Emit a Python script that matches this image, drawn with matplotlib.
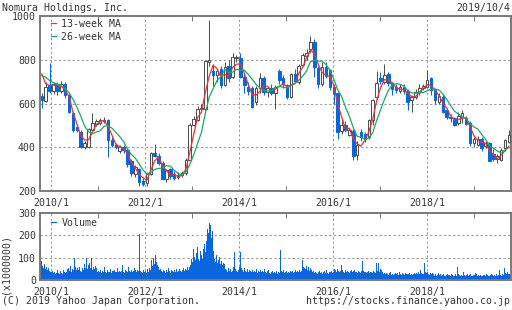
import matplotlib
matplotlib.use('Agg')
import matplotlib.pyplot as plt
import matplotlib.dates as mdates
from matplotlib.lines import Line2D
import numpy as np
import pandas as pd

plt.rcParams['font.family'] = 'DejaVu Sans Mono'

# monthly candles 2009/10 - 2019/10 (yen)
months = pd.period_range('2009-10', '2019-10', freq='M')
opens = [636, 613, 685, 655, 688, 655, 690, 639, 555, 494, 471, 403,
         400, 479, 505, 512, 520, 524, 433, 410, 385, 400, 387, 335,
         278, 300, 245, 235, 278, 375, 360, 330, 255, 299, 278, 266,
         272, 281, 342, 502, 524, 573, 573, 790, 750, 730, 756, 684,
         771, 722, 806, 806, 720, 677, 669, 608, 669, 715, 654, 669,
         650, 750, 715, 684, 628, 735, 700, 776, 817, 848, 883, 761,
         689, 765, 753, 677, 646, 474, 502, 456, 476, 365, 470, 460,
         445, 524, 631, 715, 700, 735, 692, 675, 659, 677, 659, 616,
         631, 654, 670, 677, 715, 662, 608, 631, 570, 537, 532, 509,
         540, 532, 512, 418, 410, 436, 405, 418, 370, 345, 342, 395, 425]
highs = [648, 700, 784, 700, 700, 705, 700, 645, 560, 505, 480, 430,
         490, 555, 530, 535, 540, 530, 445, 420, 410, 410, 395, 345,
         320, 305, 265, 285, 380, 415, 375, 335, 300, 305, 290, 285,
         290, 350, 510, 545, 590, 600, 800, 981, 780, 760, 770, 790,
         800, 830, 820, 830, 735, 700, 680, 680, 740, 725, 675, 690,
         685, 760, 730, 690, 740, 760, 780, 830, 850, 908, 895, 770,
         790, 790, 760, 690, 650, 530, 520, 490, 485, 430, 485, 470,
         530, 620, 750, 745, 780, 745, 700, 690, 690, 690, 665, 640,
         665, 690, 690, 754, 720, 670, 650, 640, 580, 550, 540, 560,
         570, 545, 520, 445, 450, 445, 430, 425, 390, 370, 395, 440, 480]
lows = [578, 605, 647, 645, 640, 650, 625, 555, 470, 470, 395, 390,
        395, 470, 495, 500, 510, 357, 400, 390, 375, 375, 310, 270,
        265, 225, 225, 225, 275, 355, 320, 250, 240, 255, 250, 255,
        265, 275, 340, 495, 520, 560, 570, 770, 680, 700, 670, 680,
        700, 715, 790, 715, 650, 640, 580, 595, 650, 640, 630, 640,
        573, 690, 670, 620, 625, 695, 690, 770, 800, 830, 720, 670,
        680, 715, 660, 600, 440, 460, 470, 450, 340, 340, 430, 425,
        440, 500, 620, 690, 690, 680, 640, 650, 650, 645, 570, 563,
        620, 640, 660, 670, 640, 600, 600, 555, 530, 515, 495, 500,
        510, 500, 405, 400, 405, 385, 395, 335, 335, 330, 335, 385, 420]
closes = [616, 677, 655, 688, 655, 690, 640, 563, 479, 479, 403, 418,
          482, 509, 520, 524, 525, 433, 410, 400, 400, 387, 325, 281,
          308, 240, 232, 278, 375, 360, 330, 255, 296, 268, 258, 272,
          282, 342, 502, 529, 573, 580, 796, 800, 730, 750, 684, 768,
          715, 811, 812, 722, 684, 658, 585, 669, 715, 654, 669, 650,
          677, 707, 689, 631, 735, 704, 771, 822, 832, 883, 768, 689,
          768, 726, 677, 646, 471, 502, 479, 479, 360, 410, 445, 440,
          524, 616, 692, 705, 730, 692, 665, 660, 674, 655, 608, 631,
          654, 670, 680, 707, 662, 616, 634, 563, 540, 532, 502, 543,
          555, 506, 418, 436, 440, 395, 418, 339, 345, 360, 387, 433, 456]

# moving averages, one reading per month
ma13 = [735, 690, 682, 684, 680, 678, 662, 631, 561, 507, 454, 433,
        434, 470, 504, 518, 523, 494, 456, 414, 403, 396, 371, 331,
        305, 276, 260, 250, 295, 338, 355, 315, 294, 273, 274, 266,
        271, 299, 375, 458, 535, 561, 650, 725, 775, 760, 721, 734,
        722, 765, 779, 782, 739, 688, 642, 637, 656, 679, 679, 658,
        665, 678, 691, 676, 685, 690, 737, 766, 808, 846, 828, 780,
        742, 728, 724, 683, 598, 540, 484, 487, 439, 416, 405, 432,
        470, 527, 611, 671, 709, 709, 696, 672, 666, 663, 646, 631,
        631, 652, 668, 686, 683, 662, 637, 604, 579, 545, 525, 526,
        533, 535, 493, 453, 431, 424, 418, 384, 367, 348, 364, 385, 405]
ma26 = [728, 720, 705, 695, 688, 680, 668, 649, 619, 584, 542, 497,
        471, 462, 469, 476, 496, 499, 487, 469, 449, 426, 393, 367,
        350, 324, 296, 277, 286, 299, 303, 305, 316, 314, 295, 280,
        272, 286, 321, 364, 417, 468, 554, 630, 668, 705, 723, 755,
        741, 743, 757, 752, 752, 734, 712, 688, 672, 661, 658, 657,
        672, 679, 674, 671, 682, 691, 706, 725, 749, 791, 797, 794,
        794, 778, 752, 712, 663, 632, 584, 542, 490, 450, 446, 436,
        443, 466, 521, 570, 618, 660, 683, 691, 688, 679, 659, 649,
        647, 649, 650, 658, 667, 665, 662, 644, 620, 591, 565, 552,
        539, 530, 509, 493, 483, 458, 436, 408, 396, 383, 374, 388, 398]

# weekly volume (x1,000,000 shares) from 2009/10/5
volume = [228, 105, 85, 62, 55, 70, 48, 58, 45, 52, 40, 47, 38,
          35, 42, 30, 38, 28, 33, 45, 30, 36, 27, 40, 32, 29, 44, 35, 31, 38,
          48, 40, 55, 42, 62, 38, 50, 45, 97, 58, 44, 52, 40, 47, 60, 42, 38, 55, 46,
          72, 55, 100, 60, 48, 65, 78, 52, 97, 45, 58, 50, 62, 44, 55,
          38, 42, 35, 45, 33, 40, 36, 60, 42, 38, 31, 44, 37, 35, 48, 33, 41, 39,
          30, 45, 36, 34, 52, 38, 42, 35, 40, 66, 44, 37, 33, 45, 40, 36, 58, 42,
          38, 47, 35, 41, 39, 55, 43, 37, 46, 40,
          205,
          42, 35, 38, 30, 44, 36, 40, 33, 48, 38, 52, 45,
          75, 88, 62, 97, 70, 110, 80, 65, 58,
          45, 38, 50, 42, 35, 47, 40, 33, 44, 38, 52, 36, 41, 30, 46, 39, 35, 43,
          37, 50, 34, 42, 38, 48, 40, 36, 45, 55, 42, 50, 47, 60, 52, 45, 58, 65,
          95, 80, 140, 105, 88, 120, 100, 150, 92, 85, 130, 110, 95, 140, 160, 125,
          200, 175, 230, 210, 255, 248, 190, 220,
          130, 95, 120, 80, 110, 75, 90, 105, 70, 85, 65, 78, 60, 72,
          50, 45, 38, 55, 42, 48, 35, 40, 58, 44, 127, 50, 42, 38, 46, 60, 127, 55,
          45, 40, 36, 52, 42, 38, 48, 34, 44, 40, 37, 100, 45, 38, 42, 35, 48, 30,
          40, 36, 44, 32, 38, 42, 34, 50, 36, 30, 40, 45, 33, 38, 28, 35, 42, 30,
          36, 32, 40, 29, 34,
          30, 38, 134,
          40, 35, 45, 30, 38, 42, 33, 36, 44, 31, 39, 35, 42, 30, 37, 45, 34, 40,
          32, 38, 43, 36, 41,
          88, 60, 55, 48, 62, 50, 45, 58, 42, 52, 46,
          35, 40, 30, 38, 45, 33, 28, 36, 42, 31, 38, 27, 34, 40, 30, 36, 44, 32,
          29, 38, 35, 41, 30, 37, 48, 42,
          45, 38, 50, 40, 35, 42, 67, 44, 36, 40, 33, 46, 38, 42, 35, 30, 39, 44,
          36, 32, 40, 47, 34, 38, 30, 42, 36, 33, 40, 35, 86, 42, 38, 34, 30, 36,
          40, 33, 38, 45, 35, 32, 40, 36, 30, 76, 42, 76, 38, 50, 89, 45,
          35, 28, 30, 25, 32, 27, 22, 30, 26, 34, 24, 29, 21, 28, 33, 25, 30, 23,
          27, 35, 26, 22, 30, 28, 24, 32, 25, 29, 20, 27, 31, 24, 28, 22, 26, 33,
          25, 30, 23, 28, 36, 27, 45, 32, 28, 25, 76, 38, 30, 26, 35, 29, 24, 32, 27, 30,
          25, 20, 28, 22, 18, 24, 30, 21, 26, 19, 23, 27, 20, 25, 18, 22, 28, 21,
          24, 19, 26, 22, 17, 23, 20, 25, 18, 60, 28, 22, 19, 24, 20, 26, 35, 23,
          18, 21, 25, 19, 22, 27, 20, 24, 18, 23, 21, 30, 25, 19, 22, 17, 24, 20,
          26, 18, 23, 21, 19, 25, 22, 18, 20, 24, 19, 26, 21, 17, 23, 20, 25, 19,
          22, 45, 28, 24, 20, 26, 22, 55, 30, 25, 38, 28, 32, 26, 24]

title = 'Nomura Holdings, Inc.'
date_label = '2019/10/4'

BLUE = '#0a66dc'
UPC = '#505050'
RED = '#e8323c'
GREEN = '#1fa862'
FRAME = '#7a7a7a'
TXT = '#333333'
FS = 7.15

x0 = mdates.date2num(pd.Timestamp('2009-10-04'))
x1 = mdates.date2num(pd.Timestamp('2019-10-08'))

fig = plt.figure(figsize=(5.12, 3.10), dpi=100)
ax = fig.add_axes([39.5 / 512, 1 - 191 / 310, 471 / 512, 175 / 310])
axv = fig.add_axes([39.5 / 512, 1 - 280 / 310, 471 / 512, 67 / 310])

# candles sit evenly across the width, one slot per month
step = (x1 - x0) / len(months)
xs = x0 + step * (np.arange(len(months)) + 0.6)
o = np.array(opens); c = np.array(closes)
up = c >= o
ax.vlines(xs[up], np.array(lows)[up], np.array(highs)[up], color=UPC, lw=0.75, zorder=2)
ax.vlines(xs[~up], np.array(lows)[~up], np.array(highs)[~up], color=BLUE, lw=0.75, zorder=2)
body = np.maximum(np.abs(c - o), 2)
ax.bar(xs[up], body[up], bottom=np.minimum(o, c)[up], width=step * 0.65,
       facecolor='white', edgecolor=UPC, lw=0.75, zorder=3)
ax.bar(xs[~up], body[~up], bottom=np.minimum(o, c)[~up], width=step * 0.65,
       facecolor=BLUE, edgecolor=BLUE, lw=0.75, zorder=3)
ax.plot(xs, ma13, color=RED, lw=0.9, zorder=4, label='13-week MA')
ax.plot(xs, ma26, color=GREEN, lw=0.9, zorder=4, label='26-week MA')

weeks = pd.date_range('2009-10-05', periods=len(volume), freq='7D')
axv.bar(weeks, volume, width=7, color=BLUE, lw=0, align='edge')

even_years = [pd.Timestamp(f'{y}-01-01') for y in range(2010, 2019, 2)]
odd_years = [pd.Timestamp(f'{y}-01-01') for y in range(2011, 2020, 2)]

for a, ylim, yt in [(ax, (200, 1000), [200, 400, 600, 800, 1000]),
                    (axv, (0, 300), [0, 100, 200, 300])]:
    a.set_xlim(x0, x1)
    a.set_ylim(*ylim)
    a.set_yticks(yt)
    a.xaxis_date()
    a.set_xticks(even_years)
    a.set_xticklabels([f'{d.year}/1' for d in even_years])
    a.set_xticks(odd_years, minor=True)
    a.tick_params(axis='both', which='major', length=0, labelsize=FS, colors=TXT, pad=2.5)
    a.tick_params(axis='x', which='major', pad=5)
    a.tick_params(axis='x', which='minor', direction='in', length=3.5, width=0.75,
                  color=FRAME, top=True, bottom=True)
    a.grid(True, which='major', ls=(0, (2.2, 2.2)), color='#9a9a9a', lw=0.75)
    for s in a.spines.values():
        s.set_color(FRAME)
        s.set_linewidth(1.4)
    a.set_axisbelow(True)

axv.set_ylabel('(x1000000)', fontsize=FS, color=TXT)
axv.yaxis.set_label_coords(-0.061, 0.24)

leg = ax.legend(loc='upper left', bbox_to_anchor=(0.0235, 0.985), frameon=False,
                fontsize=FS, handlelength=0.55, handletextpad=0.55, labelspacing=0.3,
                borderpad=0, borderaxespad=0)
for t in leg.get_texts():
    t.set_color(TXT)
vh = [Line2D([0], [0], color=BLUE, lw=0.9)]
legv = axv.legend(vh, ['Volume'], loc='upper left', bbox_to_anchor=(0.0235, 0.93),
                  frameon=False, fontsize=FS, handlelength=0.55, handletextpad=0.55,
                  borderpad=0, borderaxespad=0)
for t in legv.get_texts():
    t.set_color(TXT)

fig.text(2 / 512, 1 - 8 / 310, title, ha='left', va='center', fontsize=FS, color=TXT)
fig.text(510 / 512, 1 - 8 / 310, date_label, ha='right', va='center', fontsize=FS, color=TXT)
fig.text(2 / 512, 1 - 301 / 310, '(C) 2019 Yahoo Japan Corporation.', ha='left', va='center',
         fontsize=FS, color=TXT)
fig.text(510 / 512, 1 - 301 / 310, 'https://stocks.finance.yahoo.co.jp', ha='right', va='center',
         fontsize=FS, color=TXT)

fig.savefig('out.png', dpi=100)
